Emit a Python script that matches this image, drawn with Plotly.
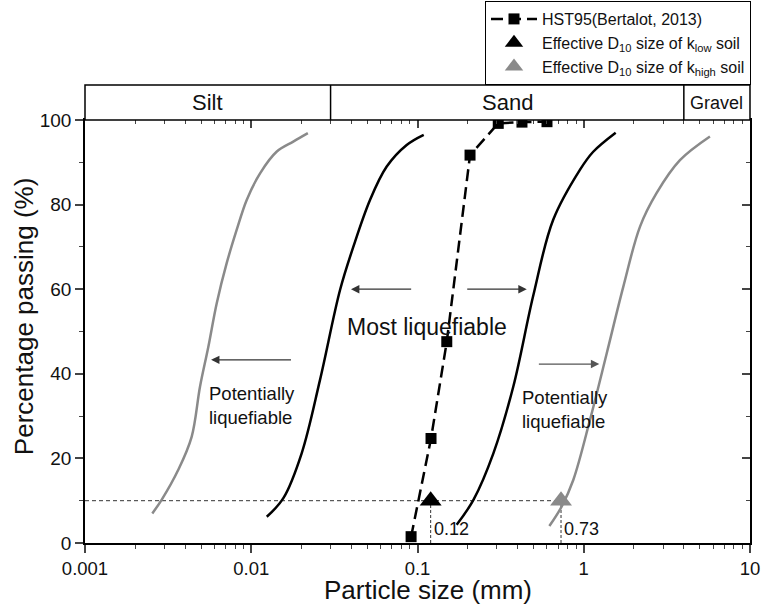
import numpy as np
import plotly.graph_objects as go

# ---------------- data ----------------
# gradation boundary curves (particle size mm, percent passing)
c1_x = [0.00254, 0.00289, 0.00364, 0.00438, 0.00492, 0.00552, 0.00620, 0.00711, 0.00817, 0.00939, 0.0113, 0.0142, 0.0179, 0.0219]
c1_y = [7.0, 10.2, 17.3, 25.1, 37.0, 46.4, 56.7, 66.1, 74.0, 81.1, 87.4, 92.5, 94.9, 96.9]

c2_x = [0.0124, 0.0156, 0.0201, 0.0259, 0.0342, 0.0411, 0.0518, 0.0653, 0.0861, 0.109]
c2_y = [6.2, 10.6, 21.2, 38.5, 59.8, 70.0, 81.1, 89.0, 94.1, 96.5]

c3_x = [0.172, 0.217, 0.286, 0.377, 0.497, 0.655, 0.948, 1.14, 1.556]
c3_y = [4.3, 10.2, 21.2, 37.0, 58.5, 76.4, 88.2, 92.5, 97.0]

c4_x = [0.621, 0.736, 0.865, 1.09, 1.374, 1.73, 2.18, 2.74, 3.79, 5.74]
c4_y = [4.0, 8.6, 14.9, 29.1, 44.8, 60.6, 74.8, 82.7, 90.5, 96.1]

# HST95 (Bertalot, 2013)
hst_x = [0.0915, 0.1206, 0.150, 0.207, 0.306, 0.425, 0.601]
hst_y = [1.5, 24.7, 47.6, 91.7, 99.2, 99.5, 99.6]

# effective D10 sizes
d10_low = 0.12
d10_high = 0.73
d10_y = 10

# soil classification band
band_edges = [0.001, 0.03, 4.0, 10.0]
band_names = ["Silt", "Sand", "Gravel"]

x_ticks = [0.001, 0.01, 0.1, 1, 10]
x_ticktext = ["0.001", "0.01", "0.1", "1", "10"]
x_minor = [m * 10.0 ** k for k in range(-3, 1) for m in range(2, 10)]
y_ticks = [0, 20, 40, 60, 80, 100]
y_minor = [10, 30, 50, 70, 90]

FONT = "Liberation Sans, Arial, sans-serif"
GRAY = "#8a8a8a"
TXT = "#111"

fig = go.Figure()

# dotted guide lines
fig.add_trace(go.Scatter(x=[0.001, d10_high], y=[d10_y, d10_y], mode="lines",
                         line=dict(color="#333", width=1, dash="4px,3px"), showlegend=False, hoverinfo="skip"))
fig.add_trace(go.Scatter(x=[d10_low, d10_low], y=[0, d10_y], mode="lines",
                         line=dict(color="#333", width=1, dash="3px,2px"), showlegend=False, hoverinfo="skip"))
fig.add_trace(go.Scatter(x=[d10_high, d10_high], y=[0, d10_y], mode="lines",
                         line=dict(color="#333", width=1, dash="3px,2px"), showlegend=False, hoverinfo="skip"))

for cx, cy, col in [(c1_x, c1_y, GRAY), (c2_x, c2_y, "black"), (c3_x, c3_y, "black"), (c4_x, c4_y, GRAY)]:
    fig.add_trace(go.Scatter(x=cx, y=cy, mode="lines", line=dict(color=col, width=2.5, shape="spline"),
                             showlegend=False, hoverinfo="skip"))

fig.add_trace(go.Scatter(x=hst_x, y=hst_y, mode="lines+markers", name="HST95(Bertalot, 2013)",
                         line=dict(color="black", width=2.5, dash="12px,6px"),
                         marker=dict(symbol="square", size=11, color="black")))
fig.add_trace(go.Scatter(x=[d10_low], y=[d10_y], mode="markers",
                         name="Effective D<sub>10</sub> size of k<sub>low</sub> soil",
                         marker=dict(symbol="triangle-up", size=19, color="black")))
fig.add_trace(go.Scatter(x=[d10_high], y=[d10_y], mode="markers",
                         name="Effective D<sub>10</sub> size of k<sub>high</sub> soil",
                         marker=dict(symbol="triangle-up", size=19, color=GRAY)))

# invisible trace for mirrored axes
fig.add_trace(go.Scatter(x=[0.01], y=[50], xaxis="x2", yaxis="y2", mode="markers",
                         marker=dict(opacity=0), showlegend=False, hoverinfo="skip"))

# annotations
anns = []
def arrow(head_x, tail_x, y, color):
    anns.append(dict(x=np.log10(head_x), y=y, ax=np.log10(tail_x), ay=y, axref="x", ayref="y",
                     xref="x", yref="y", text="", showarrow=True, arrowhead=2, arrowsize=1.4,
                     arrowwidth=1.2, arrowcolor=color))

arrow(0.00573, 0.0177, 43.3, "#333")
arrow(0.0398, 0.0935, 60, "#333")
arrow(0.454, 0.195, 60, "#333")
arrow(1.24, 0.526, 42.3, "#555")

anns.append(dict(x=np.log10(0.0054), y=32.5, xref="x", yref="y", text="Potentially<br>liquefiable",
                 showarrow=False, xanchor="left", yanchor="middle", align="left",
                 font=dict(size=18.5, color=TXT, family=FONT)))
anns.append(dict(x=np.log10(0.4135), y=31.6, xref="x", yref="y", text="Potentially<br>liquefiable",
                 showarrow=False, xanchor="left", yanchor="middle", align="left",
                 font=dict(size=18.5, color=TXT, family=FONT)))
anns.append(dict(x=np.log10(0.0366), y=51, xref="x", yref="y", text="Most liquefiable",
                 showarrow=False, xanchor="left", yanchor="middle", font=dict(size=23, color=TXT, family=FONT)))
anns.append(dict(x=np.log10(d10_low), y=3.4, xref="x", yref="y", text="0.12", showarrow=False,
                 xanchor="left", yanchor="middle", xshift=1, font=dict(size=18, color=TXT, family=FONT)))
anns.append(dict(x=np.log10(d10_high), y=3.4, xref="x", yref="y", text="0.73", showarrow=False,
                 xanchor="left", yanchor="middle", xshift=1, font=dict(size=18, color=TXT, family=FONT)))

# axis titles
anns.append(dict(x=0.5165, y=-0.1113, xref="paper", yref="paper", text="Particle size (mm)", showarrow=False,
                 xanchor="center", yanchor="middle", font=dict(size=26, color=TXT, family=FONT)))
anns.append(dict(x=-0.0917, y=0.534, xref="paper", yref="paper", text="Percentage passing (%)",
                 showarrow=False, textangle=-90, xanchor="center", yanchor="middle",
                 font=dict(size=26, color=TXT, family=FONT)))

band_h = 0.0827
shapes = [dict(type="rect", xref="paper", yref="paper", x0=0, x1=1, y0=1, y1=1 + band_h,
               line=dict(color="black", width=1.5), fillcolor="white")]
for e in band_edges[1:-1]:
    shapes.append(dict(type="line", xref="x", yref="paper", x0=e, x1=e, y0=1, y1=1 + band_h,
                       line=dict(color="black", width=1.5)))
for i, nm in enumerate(band_names):
    cx = 10 ** ((np.log10(band_edges[i]) + np.log10(band_edges[i + 1])) / 2)
    anns.append(dict(x=np.log10(cx), y=1 + band_h / 2, xref="x", yref="paper", text=nm, showarrow=False,
                     xanchor="center", yanchor="middle",
                     font=dict(size=22 if nm != "Gravel" else 18, color=TXT, family=FONT)))

fig.update_layout(
    width=763, height=604,
    margin=dict(l=85, r=13, t=120, b=61, autoexpand=False),
    paper_bgcolor="white", plot_bgcolor="white",
    font=dict(family=FONT, color=TXT),
    annotations=anns, shapes=shapes,
    legend=dict(x=0.6015, y=1.2813, xanchor="left", yanchor="top", bgcolor="white",
                bordercolor="black", borderwidth=1, font=dict(size=16, family=FONT, color=TXT),
                tracegroupgap=0, itemwidth=46),
    xaxis=dict(type="log", range=[-3, 1], tickvals=x_ticks, ticktext=x_ticktext,
               ticks="outside", ticklen=8, tickwidth=1.5, showline=True, linecolor="black", linewidth=1.5,
               showgrid=False, zeroline=False, tickfont=dict(size=18.5),
               minor=dict(tickvals=x_minor, ticks="outside", ticklen=4, tickwidth=1.2, showgrid=False)),
    yaxis=dict(range=[0, 100], tickvals=y_ticks, ticks="outside", ticklen=8, tickwidth=1.5,
               showline=True, linecolor="black", linewidth=1.5, showgrid=False, zeroline=False,
               tickfont=dict(size=19),
               minor=dict(tickvals=y_minor, ticks="outside", ticklen=4, tickwidth=1.2, showgrid=False)),
    xaxis2=dict(type="log", range=[-3, 1], overlaying="x", side="top", tickvals=x_ticks,
                showticklabels=False, ticks="inside", ticklen=8, tickwidth=1.5, showline=True,
                linecolor="black", linewidth=1.5, showgrid=False, zeroline=False,
                minor=dict(tickvals=x_minor, ticks="inside", ticklen=4, tickwidth=1.2, showgrid=False)),
    yaxis2=dict(range=[0, 100], overlaying="y", side="right", tickvals=y_ticks, showticklabels=False,
                ticks="inside", ticklen=8, tickwidth=1.5, showline=True, linecolor="black", linewidth=1.5,
                showgrid=False, zeroline=False,
                minor=dict(tickvals=y_minor, ticks="inside", ticklen=4, tickwidth=1.2, showgrid=False)),
)

fig.write_html("out.html")
